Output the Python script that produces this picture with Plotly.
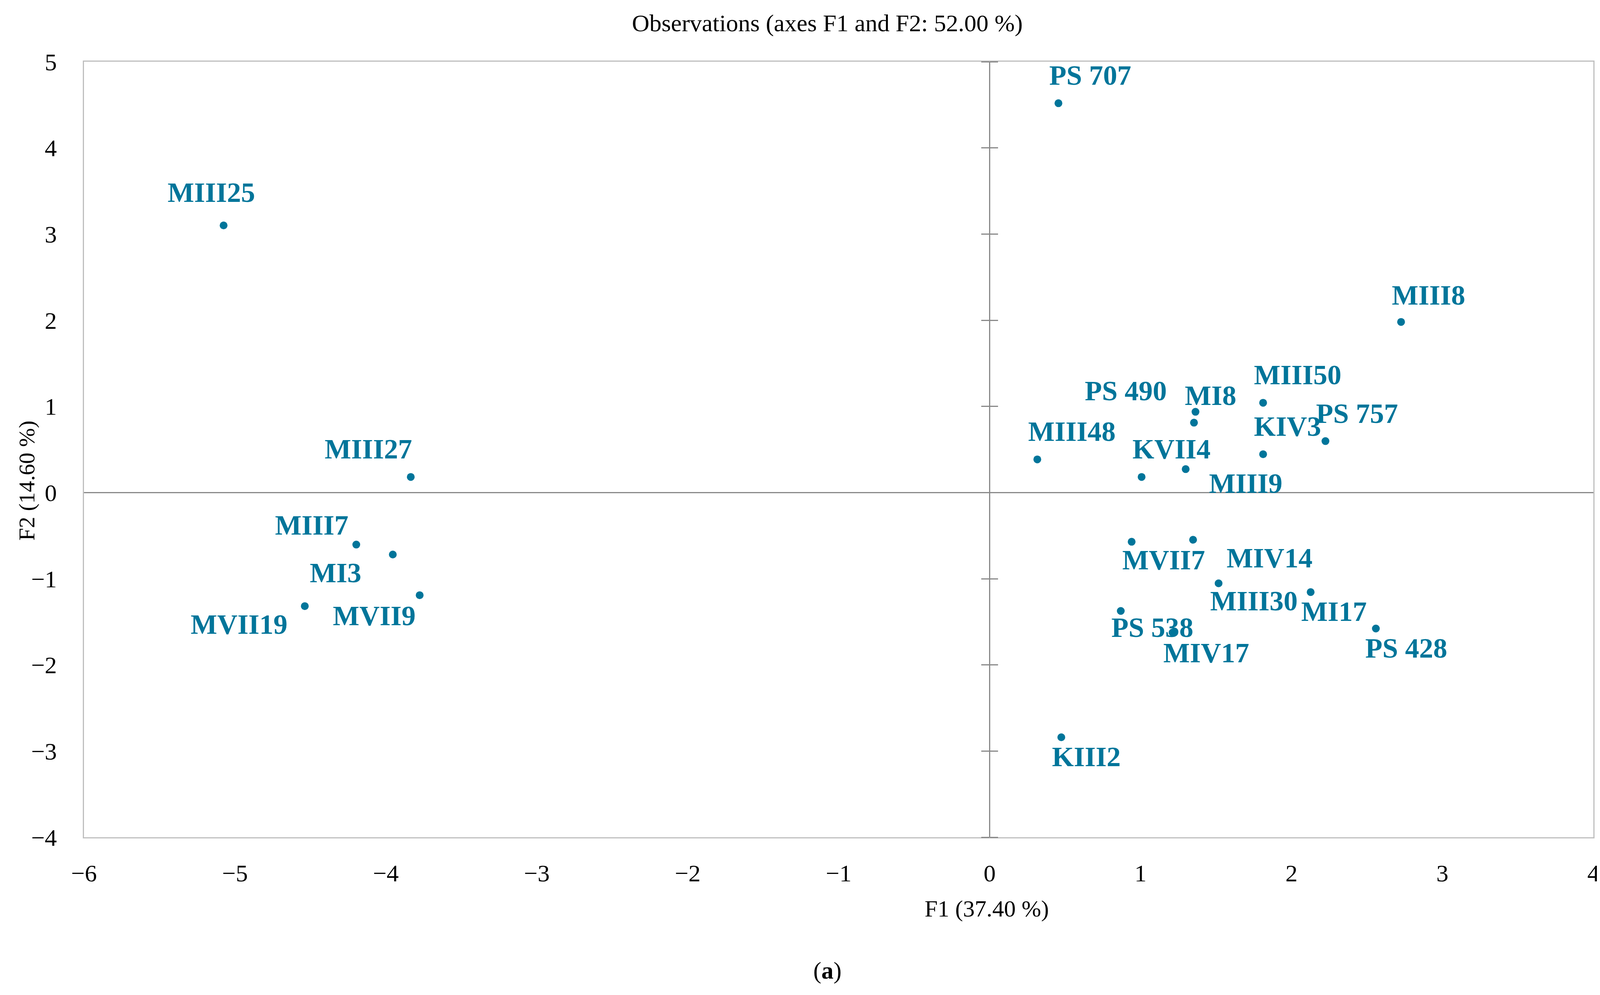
import plotly.graph_objects as go

# observation scores on the first two factors
labels = ["PS 707", "MIII25", "MIII8", "MIII50", "PS 490", "MI8", "KIV3", "PS 757",
          "MIII48", "KVII4", "MIII9", "MIII27", "MIII7", "MI3", "MVII9", "MVII19",
          "MVII7", "MIV14", "MIII30", "MI17", "PS 428", "PS 538", "MIV17", "KIII2"]
f1 = [0.456, -5.075, 2.726, 1.812, 1.354, 1.364, 1.812, 2.225,
      0.316, 1.007, 1.299, -3.835, -4.196, -3.954, -3.776, -4.537,
      0.941, 1.348, 1.517, 2.127, 2.559, 0.869, 1.212, 0.475]
f2 = [4.518, 3.10, 1.98, 1.042, 0.811, 0.937, 0.445, 0.597,
      0.385, 0.181, 0.272, 0.181, -0.604, -0.719, -1.191, -1.318,
      -0.571, -0.548, -1.053, -1.155, -1.578, -1.374, -1.624, -2.84]

x_ticks = [-6, -5, -4, -3, -2, -1, 0, 1, 2, 3, 4]
y_ticks = [-4, -3, -2, -1, 0, 1, 2, 3, 4, 5]

# label placement (anchor, xshift px, yshift px), like the XLSTAT layout
label_pos = [("left", -26, 71), ("left", -145, 84), ("left", -26, 68), ("left", -26, 71),
             ("right", -68, 81), ("left", -29, 42), ("left", -26, 71), ("left", -26, 71),
             ("left", -26, 71), ("left", -26, 71), ("left", 58, -37), ("right", 5, 71),
             ("right", -18, 50), ("right", -79, -47), ("right", -8, -53), ("right", -42, -47),
             ("left", -26, -47), ("left", 84, -47), ("left", -24, -45), ("left", -26, -50),
             ("left", -29, -50), ("left", -26, -42), ("left", -26, -52), ("left", -26, -50)]

TEAL = "#00759A"
SERIF = "Liberation Serif, Times New Roman, serif"
AXIS_GREY = "#898989"


def minus(vals):
    return [str(v).replace("-", "\u2212") for v in vals]


fig = go.Figure()
fig.add_trace(go.Scatter(x=f1, y=f2, mode="markers", text=labels,
                         marker=dict(size=20, color=TEAL), showlegend=False))

# invisible copies so the tick-only axes on x=0 get drawn
for ax in ["y2", "y3"]:
    fig.add_trace(go.Scatter(x=f1, y=f2, yaxis=ax, mode="markers",
                             marker=dict(opacity=0), hoverinfo="skip", showlegend=False))

for name, x, y, (anchor, dx, dy) in zip(labels, f1, f2, label_pos):
    fig.add_annotation(x=x, y=y, text="<b>%s</b>" % name, showarrow=False,
                       xanchor=anchor, yanchor="middle", xshift=dx, yshift=dy,
                       font=dict(family=SERIF, size=72, color=TEAL))

fig.add_annotation(text="F1 (37.40 %)", xref="paper", yref="paper", x=0.598, y=-0.092,
                   showarrow=False, xanchor="center", yanchor="middle",
                   font=dict(family=SERIF, size=60, color="black"))
fig.add_annotation(text="F2 (14.60 %)", xref="paper", yref="paper", x=-0.038, y=0.46,
                   showarrow=False, textangle=-90, xanchor="center", yanchor="middle",
                   font=dict(family=SERIF, size=58, color="black"))
fig.add_annotation(text="(<b>a</b>)", xref="paper", yref="paper", x=0.4925, y=-0.172,
                   showarrow=False, xanchor="center", yanchor="middle",
                   font=dict(family=SERIF, size=62, color="black"))

# page body keeps an 8px margin, so the figure is 16px smaller than the window
fig.update_layout(
    width=4105, height=2532,
    margin=dict(l=207, r=34, t=150, b=396),
    paper_bgcolor="white", plot_bgcolor="white",
    title=dict(text="Observations (axes F1 and F2: 52.00 %)", x=0.514, xref="container",
               y=0.980, yref="container", xanchor="center", yanchor="middle",
               font=dict(family=SERIF, size=62, color="black")),
    font=dict(family=SERIF, color="black"),
    xaxis=dict(range=[-6, 4], tickvals=x_ticks, ticktext=minus(x_ticks),
               showgrid=False, zeroline=True, zerolinecolor=AXIS_GREY, zerolinewidth=3,
               showline=True, mirror=True, linecolor="#BFBFBF", linewidth=3,
               ticks="", ticklabelstandoff=36, tickfont=dict(family=SERIF, size=62)),
    yaxis=dict(range=[-4, 5], tickvals=y_ticks, ticktext=minus(y_ticks),
               showgrid=False, zeroline=True, zerolinecolor=AXIS_GREY, zerolinewidth=3,
               showline=True, mirror=True, linecolor="#BFBFBF", linewidth=3,
               ticks="", ticklabelstandoff=54, tickfont=dict(family=SERIF, size=62)),
    yaxis2=dict(range=[-4, 5], tickvals=y_ticks, overlaying="y", anchor="free", position=0.6,
                side="left", ticks="outside", ticklen=21, tickwidth=3, tickcolor=AXIS_GREY,
                showticklabels=False, showgrid=False, zeroline=False, showline=False),
    yaxis3=dict(range=[-4, 5], tickvals=y_ticks, overlaying="y", anchor="free", position=0.6,
                side="right", ticks="outside", ticklen=21, tickwidth=3, tickcolor=AXIS_GREY,
                showticklabels=False, showgrid=False, zeroline=False, showline=False),
)

fig.write_html("out.html")
